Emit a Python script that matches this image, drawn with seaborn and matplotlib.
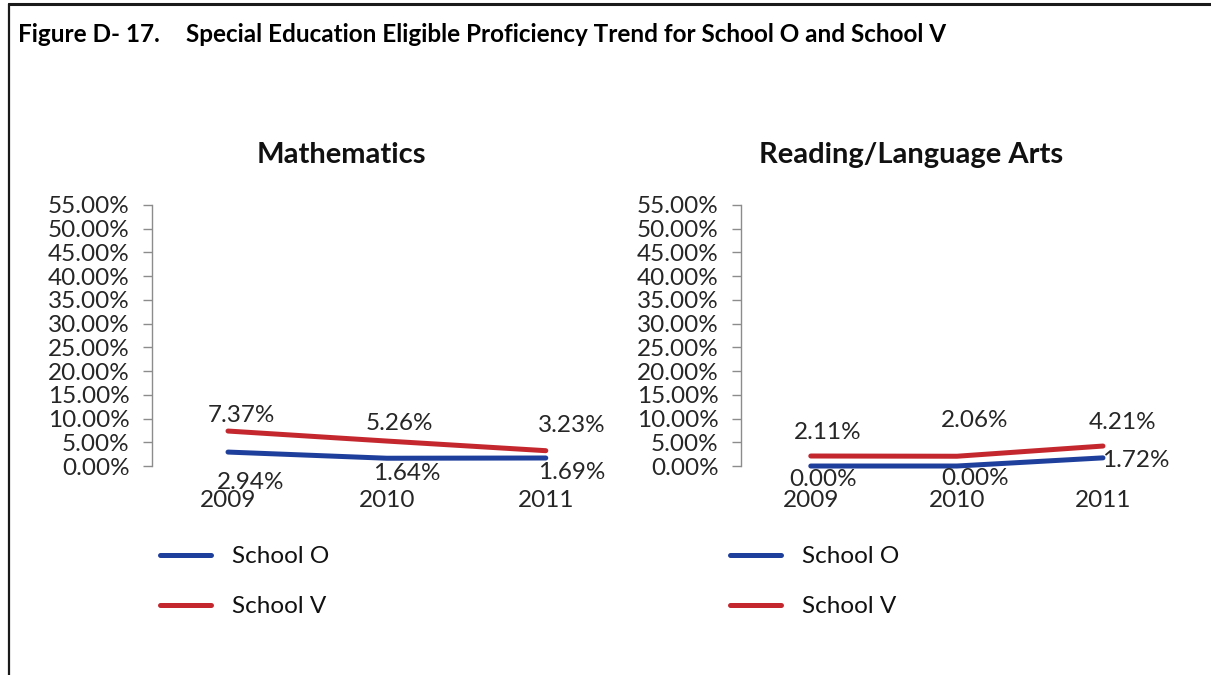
import matplotlib
matplotlib.use("Agg")
import matplotlib.pyplot as plt
from matplotlib.lines import Line2D
import seaborn as sns
import pandas as pd

# --- data -----------------------------------------------------------------
years = ["2009", "2010", "2011"]
schools = ["School O", "School V"]
math_school_o = [2.94, 1.64, 1.69]
math_school_v = [7.37, 5.26, 3.23]
reading_school_o = [0.00, 0.00, 1.72]
reading_school_v = [2.11, 2.06, 4.21]
y_ticks = [0, 5, 10, 15, 20, 25, 30, 35, 40, 45, 50, 55]

panel_titles = ["Mathematics", "Reading/Language Arts"]
figure_label = "Figure D- 17."
figure_title = "Special Education Eligible Proficiency Trend for School O and School V"

# --- styling ---------------------------------------------------------------
palette = {"School O": "#1f3f9c", "School V": "#c4282e"}
LINE_W = 3.6
FONT = ["Lato", "DejaVu Sans"]
TEXT_SIZE = 17.5

# data-label offsets in pixels (dx, dy) per series per year
label_offsets = {
    0: {"School O": [(23, -30), (20, -15), (26, -15)],
        "School V": [(13, 16), (13, 18), (26, 25)]},
    1: {"School O": [(12, -13), (18, -12), (33, -3)],
        "School V": [(17, 24), (18, 36), (20, 24)]},
}

sns.set_theme(style="white")
plt.rcParams["font.family"] = FONT

fig = plt.figure(figsize=(12.11, 6.75), dpi=100)
fig.patch.set_facecolor("white")

axes_rects = [
    [0.1253, 0.3096, 0.3910, 0.3867],
    [0.6116, 0.3096, 0.3595, 0.3867],
]
title_x = [341 / 1211, 911 / 1211]
legend_x = [160 / 1211, 730 / 1211]

panels = [
    (math_school_o, math_school_v),
    (reading_school_o, reading_school_v),
]

for p, (vals_o, vals_v) in enumerate(panels):
    df = pd.DataFrame({
        "Year": list(range(len(years))) * 2,
        "Rate": list(vals_o) + list(vals_v),
        "School": [schools[0]] * len(years) + [schools[1]] * len(years),
    })
    ax = fig.add_axes(axes_rects[p])
    sns.lineplot(data=df, x="Year", y="Rate", hue="School", hue_order=schools,
                 palette=palette, linewidth=LINE_W, ax=ax,
                 solid_capstyle="round", legend=True)
    for ln in ax.get_lines():
        ln.set_clip_on(False)

    ax.set_xlim(-0.48, 2.5)
    ax.set_ylim(0, 55)
    ax.set_yticks(y_ticks)
    ax.set_yticklabels([f"{t:.2f}%" for t in y_ticks])
    ax.set_xticks(range(len(years)))
    ax.set_xticklabels(years)
    ax.set_xlabel("")
    ax.set_ylabel("")

    for s in ["top", "right", "bottom"]:
        ax.spines[s].set_visible(False)
    ax.spines["left"].set_color("#8c8c8c")
    ax.spines["left"].set_linewidth(1.0)
    ax.tick_params(axis="y", which="major", direction="out", length=6.5,
                   width=1.0, color="#8c8c8c", pad=9.5,
                   labelsize=TEXT_SIZE, labelcolor="#262626", left=True)
    ax.tick_params(axis="x", length=0, pad=17, labelsize=TEXT_SIZE,
                   labelcolor="#262626")

    # data labels, drawn from the same values as the lines
    for school, vals in zip(schools, (vals_o, vals_v)):
        for i, v in enumerate(vals):
            dx, dy = label_offsets[p][school][i]
            ax.annotate(f"{v:.2f}%", xy=(i, v), xytext=(dx, dy),
                        textcoords="offset pixels", ha="center", va="center",
                        fontsize=TEXT_SIZE, color="#262626",
                        annotation_clip=False)

    fig.text(title_x[p], 1 - 155 / 675, panel_titles[p], ha="center",
             va="center", fontsize=21, fontweight="bold", color="#111111")

    sns.move_legend(ax, loc="upper left",
                    bbox_to_anchor=(legend_x[p], 1 - 546 / 675),
                    bbox_transform=fig.transFigure, frameon=False, title=None,
                    fontsize=TEXT_SIZE, handlelength=2.1, handletextpad=0.85,
                    labelspacing=1.2, borderpad=0, borderaxespad=0)
    leg = ax.get_legend()
    for h in leg.legend_handles:
        h.set_linewidth(LINE_W)
    for t in leg.get_texts():
        t.set_color("#111111")

# figure caption
fig.text(18 / 1211, 1 - 34 / 675, figure_label, ha="left", va="center",
         fontsize=17.5, fontweight="bold", color="#000000")
fig.text(186 / 1211, 1 - 34 / 675, figure_title, ha="left", va="center",
         fontsize=17.5, fontweight="bold", color="#000000")

# frame lines on the left and top edges
fig.add_artist(Line2D([8.5 / 1211, 8.5 / 1211], [0, 1 - 3.5 / 675],
                      transform=fig.transFigure, color="#1a1a1a", linewidth=1.6))
fig.add_artist(Line2D([8.5 / 1211, 1], [1 - 3.5 / 675, 1 - 3.5 / 675],
                      transform=fig.transFigure, color="#1a1a1a", linewidth=2.2))

fig.savefig("out.png", dpi=100, facecolor="white")
